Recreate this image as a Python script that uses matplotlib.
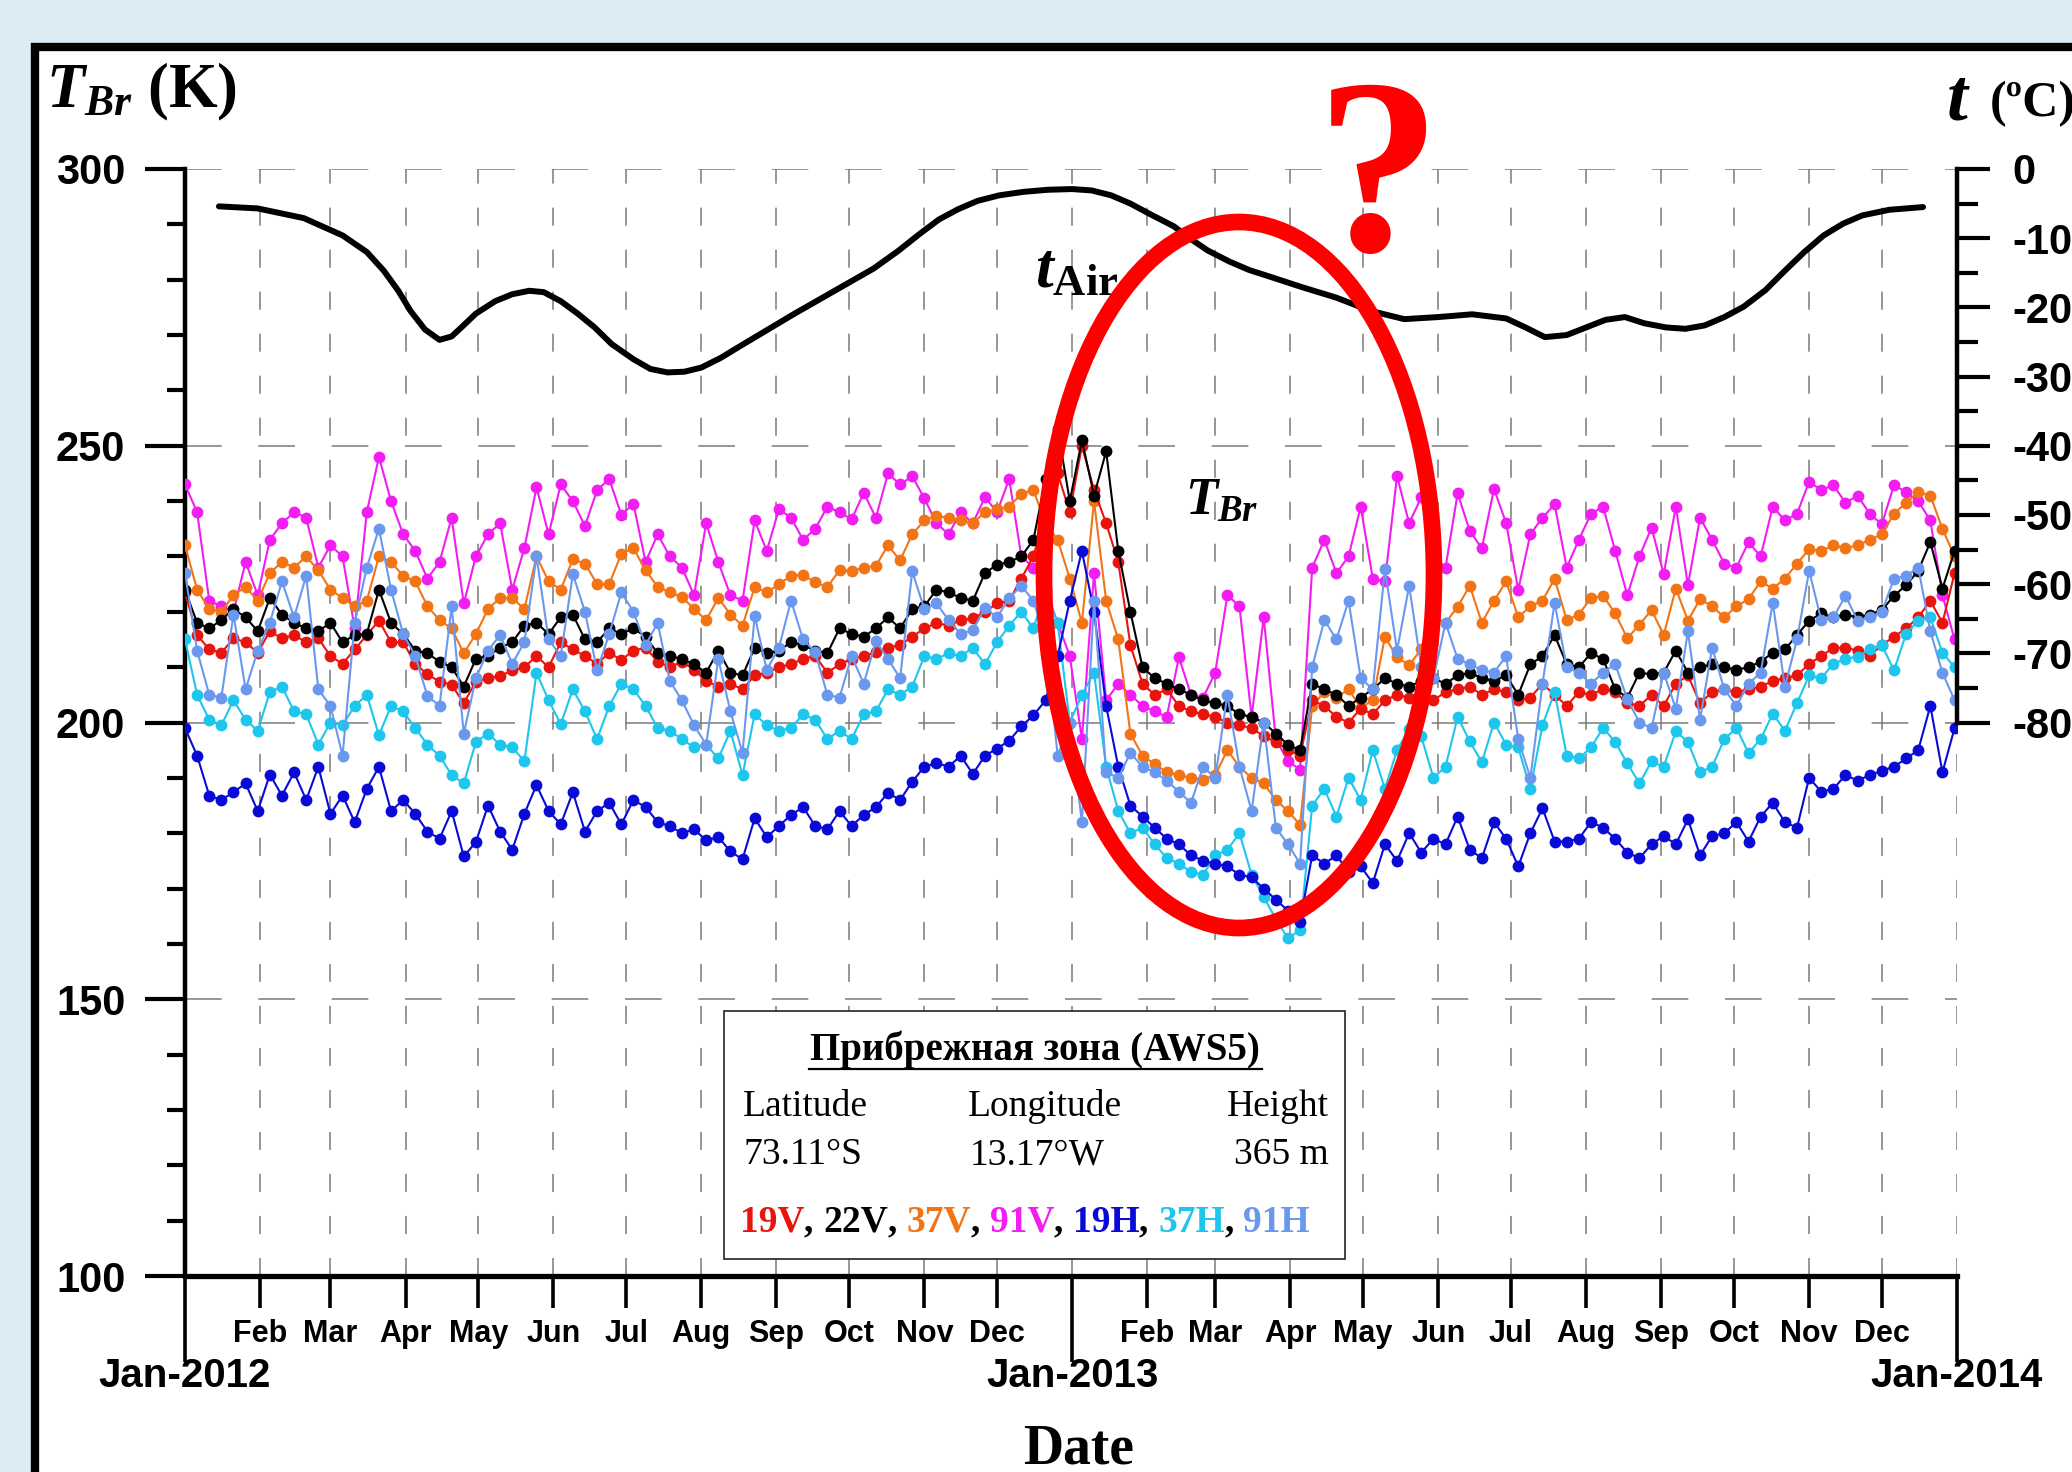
# -*- coding: utf-8 -*-

import numpy as np
import matplotlib.pyplot as plt
import matplotlib.dates as mdates
from matplotlib.patches import Rectangle, Ellipse
from matplotlib.lines import Line2D
from matplotlib.ticker import MultipleLocator
from matplotlib.offsetbox import TextArea, HPacker, AnnotationBbox

#==============================================================================
# Data: brightness temperatures, every 5 days from 2012-01-01
#==============================================================================

start = np.datetime64("2012-01-01")
step = 5  # days between samples

t19v = [223.5, 215.8, 213.2, 212.6, 215.2, 214.5, 212.6, 216.5, 215.2, 215.8,
        214.5, 215.2, 212, 210.6, 213.2, 215.8, 218.4, 214.5, 214.5, 210.6,
        208.7, 207.4, 206.8, 203.5, 207.4, 208, 208.4, 209.4, 210, 212,
        210, 214.5, 213.2, 212, 210.6, 212.6, 211.3, 213, 213.5, 211,
        210, 211, 209.5, 207.5, 206.5, 207, 206, 208.5, 209, 210,
        210.5, 211.5, 212, 209, 210.5, 211.5, 212, 212.7, 213.5, 214,
        215.5, 217, 218, 217.5, 218.5, 218.8, 220, 221.5, 222, 226,
        230, 238, 245, 238, 250, 242, 236, 229, 214, 207,
        205, 206, 203, 202, 201.5, 201, 200, 199.5, 199, 197.5,
        196.5, 195, 194, 204, 203, 201, 200, 202.5, 201.5, 204,
        205, 204.5, 205.5, 204, 205.5, 206, 206.5, 205, 206, 205.5,
        204, 204.5, 207, 205, 203, 205.5, 205, 206, 205.5, 203.5,
        203, 205, 203, 207, 208.5, 203.5, 205.5, 206, 205.5, 206,
        206.5, 207.5, 208, 208.5, 210.6, 212, 213.5, 213.5, 213, 212,
        214, 215.5, 217, 219, 222, 218, 227]

t22v = [224, 218, 217, 218.5, 220.5, 219, 216.5, 222.5, 219.5, 218,
        217, 216.5, 218, 214.5, 215.8, 216, 224, 218, 216, 213,
        212.5, 211, 210, 206.5, 211.5, 212, 213.5, 214.5, 217.5, 218,
        216, 219, 219.5, 215, 214.5, 217, 216, 217, 215.5, 212.5,
        212, 211.5, 210.5, 209, 213, 209, 208.5, 213.5, 212.5, 213,
        214.5, 214, 213, 212.5, 217, 216, 215.5, 217, 219, 217,
        220.5, 221, 224, 223.5, 222.5, 222, 227, 228.5, 229, 230,
        233, 244, 253, 240, 251, 241, 249, 231, 220, 210,
        208, 207, 206, 205, 204, 203.5, 203, 201.5, 201, 200,
        198, 196, 195, 207, 206, 205, 203, 204.5, 206, 208,
        207, 206.5, 207.5, 208, 207, 208.5, 209, 208, 207.5, 208.5,
        205, 210.5, 212, 215.8, 210.5, 210, 212.5, 211.5, 206, 204.5,
        209, 208.7, 209, 213, 209, 210, 210.5, 210, 209.5, 210,
        211, 212.6, 213.2, 215.8, 218.4, 219.7, 219, 219.5, 219, 219.5,
        220.3, 222.9, 224.8, 227.4, 232.6, 224.2, 231]

t37v = [232, 224, 220.5, 220, 223, 224.5, 222, 227, 229, 228,
        230, 227.5, 224, 222.5, 221, 222, 230, 229, 226.5, 225.5,
        221, 218.5, 217, 212.5, 216, 220.5, 222.5, 222.5, 220.5, 230,
        225.5, 224, 229.5, 228.7, 225, 225, 230.5, 231.5, 227.5, 224.5,
        223.5, 222.7, 220.5, 218.5, 222.5, 219.5, 217.5, 224.5, 223.5, 225,
        226.5, 226.7, 225.3, 224.5, 227.5, 227.3, 228, 228.3, 232, 229.3,
        234, 236.5, 237.3, 237, 236.5, 236, 238, 238.5, 239, 241.3,
        242, 236, 233, 226, 218, 240, 222, 215, 198, 194,
        192.5, 191, 190.5, 190, 189.7, 190.5, 195, 192, 190, 189,
        186, 184, 181.5, 203, 205.5, 204.5, 206, 202.7, 204, 215.5,
        211.8, 210.3, 213.3, 219, 218, 220.9, 224.7, 218, 222, 225.5,
        219, 221, 222, 226, 218.5, 219.5, 222.5, 222.9, 219.7, 215.2,
        217.7, 220.3, 215.8, 224.2, 218.4, 222.3, 221, 219, 221, 222.3,
        225.5, 224.2, 226, 228.7, 231.3, 231, 232, 231.5, 232, 233,
        234, 237.7, 239.7, 241.6, 241, 235, 230]

t91v = [243, 238, 222, 221, 220, 229, 223, 233, 236, 238,
        237, 228, 232, 230, 217, 238, 248, 240, 234, 231,
        226, 229, 237, 221.5, 230, 234, 236, 224, 231.5, 242.5,
        234, 243, 240, 235.5, 242, 244, 237.5, 239.5, 229, 234,
        230, 228, 223, 236, 229, 223, 222, 236.5, 231, 238.5,
        237, 233, 235, 239, 238, 236.7, 241.5, 237, 245, 243,
        244.5, 240.5, 236, 234, 238, 236, 240.7, 238, 244, 230,
        228, 224, 218, 212, 197, 227, 204, 207, 205, 203,
        202, 201, 211.8, 205, 204.5, 209, 223, 221, 201, 219,
        197, 193, 191.5, 228, 233, 227, 230, 239, 226, 225.5,
        244.5, 236, 240.7, 230, 228, 241.4, 234.6, 231.5, 242.2, 236,
        224, 234, 237, 239.4, 228, 233, 237.7, 239, 231, 223,
        230, 235.2, 226.8, 239, 224.8, 237, 233, 228.7, 228, 232.6,
        230, 239, 236.5, 237.7, 243.5, 242, 242.9, 239.7, 241, 237.7,
        235.8, 242.9, 241.6, 240, 236.5, 223, 215]

t19h = [199, 194, 186.8, 186, 187.4, 189, 184, 190.6, 186.8, 191,
        186, 192, 183.5, 186.8, 182, 188, 192, 184, 186, 183.5,
        180.3, 179, 184, 175.8, 178.4, 185, 180.3, 177, 183.5, 188.7,
        184, 181.6, 187.4, 180.3, 184, 185.5, 181.6, 186, 184.7, 182,
        181.3, 180, 180.7, 178.7, 179.3, 176.7, 175.3, 182.7, 179.3, 181.3,
        183.3, 184.7, 181.3, 180.7, 184, 181.3, 183.3, 184.7, 187.3, 186,
        189.3, 192, 192.7, 192, 194, 190.7, 194, 195.3, 196.7, 199.3,
        201.3, 204, 212, 222, 231, 220, 203, 192, 185, 183,
        181, 179, 178, 176, 175, 174.5, 174, 172.5, 172, 170,
        168, 166, 164, 176, 174.5, 176, 173, 174, 171, 178,
        175, 180, 176.5, 179, 178, 183, 177, 175.5, 182, 179,
        174, 180, 184.5, 178.5, 178.5, 179, 182, 181, 179, 176.5,
        175.5, 178, 179.5, 178, 182.5, 176, 179.5, 180, 182, 178.5,
        183, 185.5, 182, 181, 190, 187.5, 188, 190.5, 189.5, 190.5,
        191.3, 192, 193.5, 195, 203, 191, 199]

t37h = [215, 205, 200.5, 199.5, 204, 200.5, 198.5, 205.5, 206.5, 202,
        201.5, 196, 200, 199.5, 203, 205, 197.7, 203, 202, 199,
        196, 194, 190.5, 189, 196.5, 198, 196, 195.5, 193, 209,
        204, 199.7, 206, 202, 197, 203, 207, 206, 203, 199,
        198.5, 197, 195.5, 196, 193.5, 198.5, 190.5, 201.5, 199.5, 198.5,
        199, 201.5, 200.5, 197, 198.5, 197, 201.5, 202, 206, 205,
        206.5, 212, 211.5, 212.5, 212, 213.5, 210.5, 214.5, 217.5, 220,
        217, 224, 218, 200, 205, 209, 192, 184, 180, 181,
        178, 175.5, 174.5, 173, 172.5, 176, 177, 180, 172.5, 168.5,
        164.5, 161, 162.5, 185, 188, 183, 190, 186, 195, 188,
        195, 198.8, 197.5, 190, 192, 201, 196.6, 192.8, 200, 196,
        195.5, 188, 199.5, 205.5, 194, 193.5, 195.5, 199, 196.5, 192.6,
        189, 193, 192, 198.4, 196.5, 191, 192, 197, 199, 194.5,
        197, 201.6, 198.5, 203.5, 208.5, 208, 210.6, 211.5, 211.9, 213.2,
        214, 209.4, 216, 218.4, 219, 212.6, 210]

t91h = [227, 213, 205, 204.5, 219.5, 206, 213, 218, 225.5, 219,
        226.5, 206, 203, 194, 218, 228, 235, 224, 216, 212,
        204.8, 203, 221, 198, 208, 213, 215.8, 210.6, 214.5, 230,
        215, 212, 226.8, 220, 209.4, 216, 223.5, 220, 214, 218,
        207.5, 204, 199.5, 196, 211.5, 202, 194.5, 219.3, 209.5, 213.5,
        222, 215, 212.7, 205, 204.5, 212, 207, 214.7, 211.5, 208,
        227.3, 220.5, 221.5, 218.5, 216, 216.7, 220.7, 219, 222.5, 224.7,
        222, 215, 194, 200, 182, 222, 191, 190, 194.5, 192,
        191, 189.5, 187.5, 185.5, 192, 190, 205, 192, 184, 200,
        181, 178, 174.5, 210, 218.5, 215, 222, 208, 206, 227.7,
        213, 224.7, 210, 208, 218, 211.5, 210.5, 209.5, 209, 212,
        197, 190, 207, 221.6, 210, 209, 207, 209, 210.6, 204.2,
        200, 199, 209, 202.5, 216.5, 200.5, 213.5, 206, 203, 207,
        209, 221.6, 206.5, 215, 227.4, 218.5, 219, 222.9, 218.4, 219,
        220, 226, 226.5, 228, 216.5, 209, 204]

# air temperature (deg C), smooth curve read at these day offsets
air_day = [14, 30, 49, 65, 75, 82, 88, 93, 99, 105, 110, 114, 120, 128,
           135, 142, 148, 155, 162, 169, 176, 185, 192, 199, 206, 213, 221,
           229, 240, 251, 262, 273, 284, 294, 303, 311, 319, 327, 336, 346,
           356, 366, 374, 382, 390, 398, 408, 414, 422, 431, 439, 447, 461,
           475, 489, 503, 517, 531, 545, 553, 561, 570, 578, 586, 594, 602,
           611, 619, 627, 635, 643, 652, 660, 668, 676, 684, 692, 703, 717]
air_temp = [-5.4, -5.7, -7.1, -9.6, -12.0, -14.7, -17.6, -20.5, -23.2, -24.7,
            -24.2, -22.9, -20.9, -19.1, -18.1, -17.6, -17.8, -19.1, -20.9,
            -22.9, -25.3, -27.5, -28.9, -29.4, -29.3, -28.7, -27.3, -25.6,
            -23.3, -21.0, -18.8, -16.6, -14.4, -11.9, -9.4, -7.3, -5.8, -4.6,
            -3.8, -3.3, -3.0, -2.9, -3.1, -3.8, -5.0, -6.5, -8.3, -9.9, -11.8,
            -13.4, -14.6, -15.5, -17.1, -18.6, -20.5, -21.7, -21.4, -21.0,
            -21.6, -22.9, -24.3, -24.0, -22.9, -21.8, -21.4, -22.3, -22.9,
            -23.1, -22.6, -21.4, -19.9, -17.5, -14.7, -12.0, -9.6, -7.9,
            -6.7, -5.9, -5.5]

bands = ["19V", "22V", "37V", "91V", "19H", "37H", "91H"]
band_colors = ["#e8150f", "#000000", "#f27415", "#f21df2", "#0a0ad6", "#1ec6ee", "#6a98ee"]
series = [t19v, t22v, t37v, t91v, t19h, t37h, t91h]

dates = start + np.arange(len(t19v)) * step
air_dates = start + np.array(air_day)

#==============================================================================
# Figur
#==============================================================================

plt.rcParams["font.family"] = "Liberation Sans"
plt.rcParams["font.weight"] = "bold"
plt.rcParams["axes.unicode_minus"] = False
plt.rcParams["mathtext.fontset"] = "custom"
plt.rcParams["mathtext.it"] = "Liberation Serif:italic:bold"
plt.rcParams["mathtext.rm"] = "Liberation Serif:bold"
plt.rcParams["mathtext.bf"] = "Liberation Serif:bold"

W, H = 2072., 1472.
fig = plt.figure(figsize=(W / 100, H / 100), dpi=100)
fig.patch.set_facecolor("#dcebf4")

def fx(px):
    return px / W

def fy(py):
    return 1 - py / H

# white panel with thick border
fig.add_artist(Rectangle((fx(35), -0.2), 1.5, fy(47) + 0.2, transform=fig.transFigure,
                         facecolor="white", edgecolor="black", linewidth=6, zorder=-1))

ax = fig.add_axes([fx(185), fy(1276), fx(1957 - 185), (1276 - 169) / H])
ax.set_facecolor("none")

# plotting order: 91V below, 91H on top
order = [3, 2, 0, 1, 5, 4, 6]
for i in order:
    ax.plot(dates, series[i], "-o", color=band_colors[i], lw=1.5, ms=8.5, mew=0, zorder=3)

ax.set_xlim(np.datetime64("2012-01-01"), np.datetime64("2014-01-01"))
ax.set_ylim(100, 300)

for s in ["top", "right"]:
    ax.spines[s].set_visible(False)
ax.spines["left"].set_linewidth(3.2)
ax.spines["bottom"].set_linewidth(3.8)

ax.yaxis.set_major_locator(MultipleLocator(50))
ax.yaxis.set_minor_locator(MultipleLocator(10))
ax.tick_params(axis="y", which="major", direction="out", length=29, width=3, pad=14, labelsize=30)
ax.tick_params(axis="y", which="minor", direction="out", length=13, width=3)

ax.xaxis.set_major_locator(mdates.YearLocator())
ax.xaxis.set_major_formatter(mdates.DateFormatter("%b-%Y"))
ax.xaxis.set_minor_locator(mdates.MonthLocator(bymonth=range(2, 13)))
ax.xaxis.set_minor_formatter(mdates.DateFormatter("%b"))
ax.tick_params(axis="x", which="major", direction="out", length=62, width=2.6, pad=-4, labelsize=29)
ax.tick_params(axis="x", which="minor", direction="out", length=23, width=2.6, pad=8, labelsize=22)

ax.set_axisbelow(True)
ax.grid(axis="x", which="both", color="#7a7a7a", linestyle=(0, (11.8, 15.7)), linewidth=1.1)
ax.grid(axis="y", which="major", color="#7a7a7a", linestyle=(0, (24, 24)), linewidth=1.1)

# air temperature on the right scale
ax2 = ax.twinx()
ax2.set_ylim(-160, 0)
ax2.plot(air_dates, air_temp, color="black", lw=4.3, solid_capstyle="round",
         solid_joinstyle="round", zorder=4)
for s in ["top", "left", "bottom"]:
    ax2.spines[s].set_visible(False)
ax2.spines["right"].set_linewidth(3.2)
ax2.spines["right"].set_bounds(-80, 0)
ax2.set_yticks(np.arange(-80, 1, 10))
ax2.set_yticks(np.arange(-75, 0, 10), minor=True)
ax2.tick_params(axis="y", which="major", direction="out", length=24, width=3, pad=16, labelsize=30)
ax2.tick_params(axis="y", which="minor", direction="out", length=15, width=3)

#==============================================================================
# Tekster
#==============================================================================

serif = "Liberation Serif"

fig.text(fx(46), fy(92), r"$T_{Br}$ (K)", fontsize=45, family=serif, weight="bold", va="center", ha="left")
fig.text(fx(1946), fy(102), r"$t$", fontsize=54, family=serif, va="center", ha="left")
fig.text(fx(1990), fy(104), "(ºC)", fontsize=36, family=serif, weight="bold", va="center", ha="left")

fig.text(fx(1078), fy(1450), "Date", fontsize=40, family=serif, weight="bold", va="center", ha="center")

fig.text(fx(1035), fy(272), r"$t_{\mathrm{Air}}$", fontsize=46, family=serif, va="center", ha="left")
fig.text(fx(1185), fy(502), r"$T_{Br}$", fontsize=38, family=serif, va="center", ha="left")
fig.text(fx(1378), fy(190), "?", fontsize=180, family=serif, weight="bold", color="#ff0000",
         va="center", ha="center")

fig.add_artist(Ellipse((fx(1239), fy(575)), 390 / W, 706 / H, transform=fig.transFigure,
                       fill=False, edgecolor="#ff0000", linewidth=12, zorder=5))

# station box
fig.add_artist(Rectangle((fx(724), fy(1259)), fx(1345 - 724), (1259 - 1011) / H,
                         transform=fig.transFigure, facecolor="white", edgecolor="#222222",
                         linewidth=1.2, zorder=6))
fig.text(fx(1035), fy(1050), "Прибрежная зона (AWS5)", fontsize=28, family=serif, weight="bold",
         va="center", ha="center", zorder=7)
fig.add_artist(Line2D([fx(809), fx(1262)], [fy(1069), fy(1069)], transform=fig.transFigure,
                      color="black", lw=1.6, zorder=7))

info = dict(fontsize=27, family=serif, weight="normal", va="center", zorder=7)
fig.text(fx(743), fy(1107), "Latitude", ha="left", **info)
fig.text(fx(968), fy(1107), "Longitude", ha="left", **info)
fig.text(fx(1329), fy(1107), "Height", ha="right", **info)
fig.text(fx(743), fy(1155), "73.11°S", ha="left", **info)
fig.text(fx(970), fy(1155), "13.17°W", ha="left", **info)
fig.text(fx(1329), fy(1155), "365 m", ha="right", **info)

parts = []
for i in range(len(bands)):
    prop = dict(color=band_colors[i], fontsize=27, family=serif, weight="bold")
    parts.append(TextArea(bands[i], textprops=prop))
    if i < len(bands) - 1:
        parts.append(TextArea(", ", textprops=dict(color="black", fontsize=27, family=serif, weight="bold")))
row = HPacker(children=parts, align="baseline", pad=0, sep=0)
ab = AnnotationBbox(row, (fx(740), fy(1222)), xycoords="figure fraction", box_alignment=(0, 0.5),
                    frameon=False, pad=0, zorder=7)
fig.add_artist(ab)

plt.savefig("out.png", dpi=100, facecolor=fig.get_facecolor())
